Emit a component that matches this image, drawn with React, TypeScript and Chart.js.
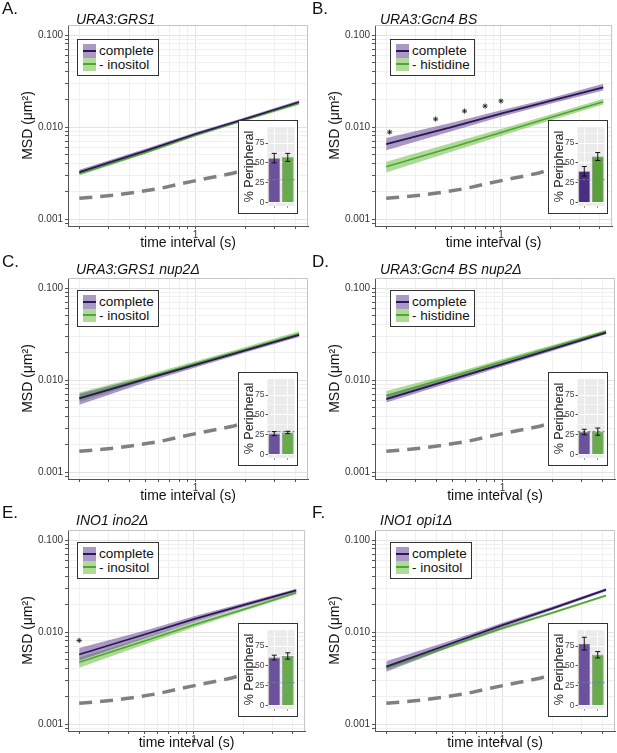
import React, { useEffect, useRef } from "react";
import { Chart, registerables } from "chart.js";

Chart.register(...registerables);

const FONT = '"Liberation Sans", Arial, Helvetica, sans-serif';
Chart.defaults.font.family = FONT;

// ---------- data ----------
const TIME = [0.2, 0.5, 1, 2, 4.2];

const REF_TIME = [0.2, 0.33, 0.46, 0.62, 0.84, 1.18, 1.67, 2.5, 4.0];
const REF_MSD = [0.00168, 0.00182, 0.00198, 0.00216, 0.00245, 0.00277, 0.00314, 0.0039, 0.0052];

const A_COMPLETE = [0.00324, 0.0055, 0.0084, 0.0123, 0.0187];
const A_COMPLETE_LO = [0.00306, 0.0052, 0.008, 0.0118, 0.0179];
const A_COMPLETE_HI = [0.00343, 0.0058, 0.0088, 0.0128, 0.0195];
const A_TREAT = [0.0031, 0.0053, 0.0082, 0.0121, 0.0181];
const A_TREAT_LO = [0.00298, 0.0051, 0.0079, 0.0117, 0.0175];
const A_TREAT_HI = [0.00322, 0.0055, 0.0085, 0.0125, 0.0187];

const B_COMPLETE = [0.0065, 0.01, 0.014, 0.0192, 0.027];
const B_COMPLETE_LO = [0.0056, 0.009, 0.0129, 0.0179, 0.0249];
const B_COMPLETE_HI = [0.0076, 0.0111, 0.0152, 0.0206, 0.0296];
const B_TREAT = [0.0037, 0.006, 0.0087, 0.0127, 0.0188];
const B_TREAT_LO = [0.0032, 0.0054, 0.008, 0.0118, 0.0176];
const B_TREAT_HI = [0.0042, 0.0067, 0.0095, 0.0137, 0.0203];

const C_COMPLETE = [0.0063, 0.0102, 0.0146, 0.021, 0.031];
const C_COMPLETE_LO = [0.0054, 0.0094, 0.0137, 0.0199, 0.0293];
const C_COMPLETE_HI = [0.0071, 0.0108, 0.0153, 0.0219, 0.0322];
const C_TREAT = [0.0064, 0.0105, 0.0151, 0.0216, 0.0318];
const C_TREAT_LO = [0.0058, 0.0098, 0.0143, 0.0206, 0.0305];
const C_TREAT_HI = [0.0073, 0.0113, 0.016, 0.0228, 0.0338];

const D_COMPLETE = [0.0062, 0.0102, 0.0149, 0.0218, 0.0327];
const D_COMPLETE_LO = [0.0057, 0.0095, 0.014, 0.0207, 0.0315];
const D_COMPLETE_HI = [0.0068, 0.0108, 0.0157, 0.0228, 0.0338];
const D_TREAT = [0.0068, 0.011, 0.0159, 0.0229, 0.0338];
const D_TREAT_LO = [0.0062, 0.0102, 0.0149, 0.0218, 0.0326];
const D_TREAT_HI = [0.0076, 0.0118, 0.0169, 0.0241, 0.0351];

const E_COMPLETE = [0.0057, 0.0094, 0.0138, 0.0196, 0.0284];
const E_COMPLETE_LO = [0.0049, 0.0085, 0.0128, 0.0186, 0.0272];
const E_COMPLETE_HI = [0.0067, 0.0103, 0.0148, 0.0207, 0.0296];
const E_TREAT = [0.0047, 0.008, 0.012, 0.0176, 0.0267];
const E_TREAT_LO = [0.0041, 0.0073, 0.0112, 0.0168, 0.0257];
const E_TREAT_HI = [0.0053, 0.0087, 0.0128, 0.0184, 0.0277];

const F_COMPLETE = [0.0042, 0.0076, 0.0119, 0.0181, 0.0289];
const F_COMPLETE_LO = [0.0037, 0.007, 0.0112, 0.0173, 0.0278];
const F_COMPLETE_HI = [0.0048, 0.0082, 0.0126, 0.0189, 0.03];
const F_TREAT = [0.0041, 0.0072, 0.011, 0.0162, 0.0249];
const F_TREAT_LO = [0.0039, 0.0069, 0.0106, 0.0157, 0.0242];
const F_TREAT_HI = [0.0043, 0.0075, 0.0114, 0.0167, 0.0256];

const B_STAR_TIME = [0.21, 0.4, 0.6, 0.8, 1.0];
const B_STAR_MSD = [0.0088, 0.0122, 0.0149, 0.0169, 0.0192];
const E_STAR_TIME = [0.2];
const E_STAR_MSD = [0.0081];

const BAR_LABELS = ["complete", "treated"];
const A_PCT = [56, 57];
const A_PCT_ERR = [6, 5];
const B_PCT = [39.5, 58];
const B_PCT_ERR = [6, 5];
const C_PCT = [26.5, 28];
const C_PCT_ERR = [2.5, 1.5];
const D_PCT = [28.5, 29];
const D_PCT_ERR = [3.5, 4.5];
const E_PCT = [60.5, 62.5];
const E_PCT_ERR = [3, 4];
const F_PCT = [78, 64];
const F_PCT_ERR = [8, 4];
const REF_PCT = 29;

const TITLES = ["URA3:GRS1", "URA3:Gcn4 BS", "URA3:GRS1 nup2Δ", "URA3:Gcn4 BS nup2Δ", "INO1 ino2Δ", "INO1 opi1Δ"];
const LETTERS = ["A.", "B.", "C.", "D.", "E.", "F."];
const TREAT_LABELS = ["- inositol", "- histidine", "- inositol", "- histidine", "- inositol", "- inositol"];

const X_TICKS = [0.2, 0.3, 0.4, 0.5, 0.6, 0.7, 0.8, 0.9, 1, 2, 3, 4];
const Y_TICKS = [
  0.0009, 0.001, 0.002, 0.003, 0.004, 0.005, 0.006, 0.007, 0.008, 0.009,
  0.01, 0.02, 0.03, 0.04, 0.05, 0.06, 0.07, 0.08, 0.09, 0.1,
];
const PCT_TICKS = [0, 12.5, 25, 37.5, 50, 62.5, 75, 87.5];

// ---------- styles ----------
const X_MIN = 0.171;
const X_MAX = 4.75;
const Y_MIN = 0.00084;
const Y_MAX = 0.1285;

const PURPLE_LINE = "#2c1654";
const GREEN_LINE = "#4ea533";
const PURPLE_BAND = "rgba(100,70,150,0.55)";
const GREEN_BAND = "rgba(110,190,70,0.55)";
const PURPLE_KEY = "#aa99c5";
const GREEN_KEY = "#afdb99";
const GRID_MAJOR = "#e3e3e3";
const GRID_MINOR = "#f0f0f0";

const PANELS = [
  { c: A_COMPLETE, cl: A_COMPLETE_LO, ch: A_COMPLETE_HI, t: A_TREAT, tl: A_TREAT_LO, th: A_TREAT_HI, pct: A_PCT, err: A_PCT_ERR, st: [] as number[], sm: [] as number[], dark: false },
  { c: B_COMPLETE, cl: B_COMPLETE_LO, ch: B_COMPLETE_HI, t: B_TREAT, tl: B_TREAT_LO, th: B_TREAT_HI, pct: B_PCT, err: B_PCT_ERR, st: B_STAR_TIME, sm: B_STAR_MSD, dark: true },
  { c: C_COMPLETE, cl: C_COMPLETE_LO, ch: C_COMPLETE_HI, t: C_TREAT, tl: C_TREAT_LO, th: C_TREAT_HI, pct: C_PCT, err: C_PCT_ERR, st: [] as number[], sm: [] as number[], dark: false },
  { c: D_COMPLETE, cl: D_COMPLETE_LO, ch: D_COMPLETE_HI, t: D_TREAT, tl: D_TREAT_LO, th: D_TREAT_HI, pct: D_PCT, err: D_PCT_ERR, st: [] as number[], sm: [] as number[], dark: false },
  { c: E_COMPLETE, cl: E_COMPLETE_LO, ch: E_COMPLETE_HI, t: E_TREAT, tl: E_TREAT_LO, th: E_TREAT_HI, pct: E_PCT, err: E_PCT_ERR, st: E_STAR_TIME, sm: E_STAR_MSD, dark: false },
  { c: F_COMPLETE, cl: F_COMPLETE_LO, ch: F_COMPLETE_HI, t: F_TREAT, tl: F_TREAT_LO, th: F_TREAT_HI, pct: F_PCT, err: F_PCT_ERR, st: [] as number[], sm: [] as number[], dark: false },
];

const ROW_TOP = [0, 253, 505];
const COL_LEFT = [0, 307];
const TITLE_TOP = [12, 9, 8];
const LETTER_TOP = [0, 0, -1];
const LEGEND_TOP = [39, 37, 37];
const LEGEND_LEFT = [77, 83];
const INSET_LEFT = [238, 241];
const INSET_TOP = [120, 119, 118];
const XTITLE_PAD = [1, 1, 6];

const isDecade = (v: number) => Math.abs(Math.log10(v) - Math.round(Math.log10(v))) < 1e-6;
const pts = (xs: number[], ys: number[]) => xs.map((x, i) => ({ x, y: ys[i] }));

const panelBorder = {
  id: "panelBorder",
  beforeDatasetsDraw(chart: any) {
    const { ctx, chartArea: a } = chart;
    ctx.save();
    ctx.strokeStyle = "#c4c4c4";
    ctx.lineWidth = 1;
    ctx.beginPath();
    ctx.moveTo(a.left, a.top + 0.5);
    ctx.lineTo(a.right - 0.5, a.top + 0.5);
    ctx.lineTo(a.right - 0.5, a.bottom);
    ctx.stroke();
    ctx.restore();
  },
};

function MsdChart({ p, row }: { p: any; row: number }) {
  const ref = useRef<HTMLCanvasElement>(null);
  useEffect(() => {
    const hidden = { pointRadius: 0, borderWidth: 0, borderColor: "transparent" };
    const chart = new Chart(ref.current!, {
      type: "line",
      data: {
        datasets: [
          { data: pts(p.st, p.sm), showLine: false, pointStyle: "star", pointRadius: 2.6, pointBorderColor: "#222", pointBorderWidth: 0.9, order: 0 } as any,
          { data: pts(TIME, p.c), borderColor: PURPLE_LINE, borderWidth: 1.8, pointRadius: 0, order: 1 },
          { data: pts(TIME, p.t), borderColor: GREEN_LINE, borderWidth: 1.6, pointRadius: 0, order: 2 },
          { data: pts(TIME, p.ch), ...hidden, fill: "+1", backgroundColor: PURPLE_BAND, order: 4 },
          { data: pts(TIME, p.cl), ...hidden, fill: false, order: 5 },
          { data: pts(TIME, p.th), ...hidden, fill: "+1", backgroundColor: GREEN_BAND, order: 6 },
          { data: pts(TIME, p.tl), ...hidden, fill: false, order: 7 },
          { data: pts(REF_TIME, REF_MSD), borderColor: "#808080", borderWidth: 3.5, borderDash: [13, 8], pointRadius: 0, order: 8 },
        ],
      },
      options: {
        animation: false,
        responsive: false,
        events: [],
        layout: { padding: { top: 25, right: 2, left: 0, bottom: 0 } },
        plugins: { legend: { display: false }, tooltip: { enabled: false } },
        scales: {
          x: {
            type: "logarithmic",
            min: X_MIN,
            max: X_MAX,
            bounds: "data",
            afterBuildTicks: (s: any) => {
              s.ticks = X_TICKS.map((v) => ({ value: v }));
            },
            afterFit: (s: any) => {
              s.height = 27;
            },
            ticks: {
              autoSkip: false,
              maxRotation: 0,
              minRotation: 0,
              padding: 0,
              color: "#333",
              font: { size: 10, family: FONT },
              callback: (v: any) => (Math.abs(v - 1) < 1e-9 ? "1" : ""),
            },
            grid: {
              color: (c: any) => (c.tick && isDecade(c.tick.value) ? GRID_MAJOR : GRID_MINOR),
              lineWidth: 1,
              drawTicks: true,
              tickLength: 3,
              tickColor: "#555",
            },
            border: { display: true, color: "#555", width: 1 },
            title: { display: true, text: "time interval (s)", color: "#111", font: { size: 14, family: FONT }, padding: { top: 0, bottom: XTITLE_PAD[row] } },
          } as any,
          y: {
            type: "logarithmic",
            min: Y_MIN,
            max: Y_MAX,
            bounds: "data",
            afterBuildTicks: (s: any) => {
              s.ticks = Y_TICKS.map((v) => ({ value: v }));
            },
            afterFit: (s: any) => {
              s.width = 68;
            },
            ticks: {
              autoSkip: false,
              padding: 2,
              color: "#333",
              font: { size: 10, family: FONT },
              callback: (v: any) => (isDecade(v) && v > 0.00095 ? Number(v).toFixed(3) : ""),
            },
            grid: {
              color: (c: any) => (c.tick && isDecade(c.tick.value) ? GRID_MAJOR : GRID_MINOR),
              lineWidth: 1,
              drawTicks: true,
              tickLength: 3,
              tickColor: "#555",
            },
            border: { display: true, color: "#555", width: 1 },
            title: { display: true, text: "MSD (μm²)", color: "#111", font: { size: 14, family: FONT }, padding: { top: 20, bottom: 0 } },
          } as any,
        },
      },
      plugins: [panelBorder],
    });
    return () => chart.destroy();
  }, []);
  return <canvas ref={ref} width={310} height={253} style={{ position: "absolute", left: 0, top: 0, width: 310, height: 253 }} />;
}

function InsetChart({ p }: { p: any }) {
  const ref = useRef<HTMLCanvasElement>(null);
  useEffect(() => {
    const purple = p.dark ? "#4b2d83" : "#6c519c";
    const green = p.dark ? "#5b9f3b" : "#6aaa4e";
    const insetPlugin = {
      id: "insetExtras",
      beforeDraw(chart: any) {
        const { ctx, chartArea: a } = chart;
        ctx.save();
        ctx.fillStyle = "#ebebeb";
        ctx.fillRect(a.left, a.top, a.right - a.left, a.bottom - a.top);
        ctx.restore();
      },
      afterDatasetsDraw(chart: any) {
        const { ctx, chartArea: a, scales } = chart;
        const y = scales.y;
        ctx.save();
        ctx.strokeStyle = "#6d80a8";
        ctx.lineWidth = 1;
        ctx.setLineDash([3, 2]);
        const ry = y.getPixelForValue(REF_PCT);
        ctx.beginPath();
        ctx.moveTo(a.left, ry);
        ctx.lineTo(a.right, ry);
        ctx.stroke();
        ctx.setLineDash([]);
        ctx.strokeStyle = "#111";
        ctx.lineWidth = 1;
        const meta = chart.getDatasetMeta(0);
        meta.data.forEach((el: any, i: number) => {
          const v = p.pct[i];
          const e = p.err[i];
          const y1 = y.getPixelForValue(v + e);
          const y2 = y.getPixelForValue(v - e);
          ctx.beginPath();
          ctx.moveTo(el.x, y1);
          ctx.lineTo(el.x, y2);
          ctx.moveTo(el.x - 2.5, y1);
          ctx.lineTo(el.x + 2.5, y1);
          ctx.moveTo(el.x - 2.5, y2);
          ctx.lineTo(el.x + 2.5, y2);
          ctx.stroke();
        });
        ctx.restore();
      },
    };
    const chart = new Chart(ref.current!, {
      type: "bar",
      data: {
        labels: BAR_LABELS,
        datasets: [
          {
            data: p.pct,
            backgroundColor: [purple, green],
            borderColor: "rgba(40,40,40,0.55)",
            borderWidth: 0.7,
            barPercentage: 0.87,
            categoryPercentage: 1,
          },
        ],
      },
      options: {
        animation: false,
        responsive: false,
        events: [],
        layout: { padding: { top: 3.5, right: 1.5, left: 0, bottom: 0 } },
        plugins: { legend: { display: false }, tooltip: { enabled: false } },
        scales: {
          x: {
            offset: true,
            ticks: { display: false },
            grid: { offset: false, color: "#ffffff", lineWidth: 0.8, drawTicks: true, tickLength: 2, tickColor: "#777" },
            border: { display: false },
            afterFit: (s: any) => {
              s.height = 4.5;
            },
          } as any,
          y: {
            min: -4,
            max: 95,
            afterBuildTicks: (s: any) => {
              s.ticks = PCT_TICKS.map((v) => ({ value: v }));
            },
            afterFit: (s: any) => {
              s.width = 28.5;
            },
            ticks: {
              autoSkip: false,
              padding: 1,
              color: "#444",
              font: { size: 8.5, family: FONT },
              callback: (v: any) => (v % 25 === 0 ? String(v) : ""),
            },
            grid: {
              color: "#ffffff",
              lineWidth: (c: any) => (c.tick && c.tick.value % 25 === 0 ? 1 : 0.5),
              drawTicks: true,
              tickLength: 2,
              tickColor: (c: any) => (c.tick && c.tick.value % 25 === 0 ? "#555" : "transparent"),
            },
            border: { display: false },
            title: { display: true, text: "% Peripheral", color: "#222", font: { size: 12.5, family: FONT }, padding: { top: 3, bottom: 0 } },
          } as any,
        },
      },
      plugins: [insetPlugin],
    });
    return () => chart.destroy();
  }, []);
  return <canvas ref={ref} width={57} height={91} style={{ position: "absolute", left: 0, top: 0, width: 57, height: 91 }} />;
}

function LegendKey({ band, line }: { band: string; line: string }) {
  return (
    <span style={{ position: "relative", display: "inline-block", width: 13, height: 13.5, background: band, marginRight: 3, flex: "none" }}>
      <span style={{ position: "absolute", left: 0, right: 0, top: 5.75, height: 2, background: line }} />
    </span>
  );
}

function Panel({ p, idx }: { p: any; idx: number }) {
  const row = Math.floor(idx / 2);
  const col = idx % 2;
  return (
    <div style={{ position: "absolute", left: COL_LEFT[col], top: ROW_TOP[row], width: 310, height: 253 }}>
      <MsdChart p={p} row={row} />
      <div style={{ position: "absolute", left: col ? 5 : 2, top: LETTER_TOP[row], fontSize: 17, lineHeight: "17px", color: "#111", whiteSpace: "nowrap" }}>
        {LETTERS[idx]}
      </div>
      <div style={{ position: "absolute", left: col ? 73 : 76, top: TITLE_TOP[row], fontSize: 14, lineHeight: "14px", fontStyle: "italic", color: "#111", whiteSpace: "nowrap" }}>
        {TITLES[idx]}
      </div>
      <div
        style={{
          position: "absolute",
          left: LEGEND_LEFT[col],
          top: LEGEND_TOP[row],
          border: "1.5px solid #333",
          background: "#fff",
          padding: "4px 4px 4px 5px",
          fontSize: 13.5,
          lineHeight: "13.5px",
          color: "#111",
        }}
      >
        <div style={{ display: "flex", alignItems: "center", whiteSpace: "nowrap" }}>
          <LegendKey band={PURPLE_KEY} line={PURPLE_LINE} />
          <span>complete</span>
        </div>
        <div style={{ display: "flex", alignItems: "center", whiteSpace: "nowrap" }}>
          <LegendKey band={GREEN_KEY} line={GREEN_LINE} />
          <span>{TREAT_LABELS[idx]}</span>
        </div>
      </div>
      <div
        style={{
          position: "absolute",
          left: INSET_LEFT[col],
          top: INSET_TOP[row],
          width: 60,
          height: 94,
          boxSizing: "border-box",
          border: "1.5px solid #333",
          background: "#fff",
        }}
      >
        <InsetChart p={p} />
      </div>
    </div>
  );
}

export default function App() {
  return (
    <div
      style={{
        position: "absolute",
        left: 0,
        top: 0,
        width: 617,
        height: 753,
        overflow: "hidden",
        background: "#fff",
        fontFamily: FONT,
      }}
    >
      {PANELS.map((p, i) => (
        <Panel key={i} p={p} idx={i} />
      ))}
    </div>
  );
}
